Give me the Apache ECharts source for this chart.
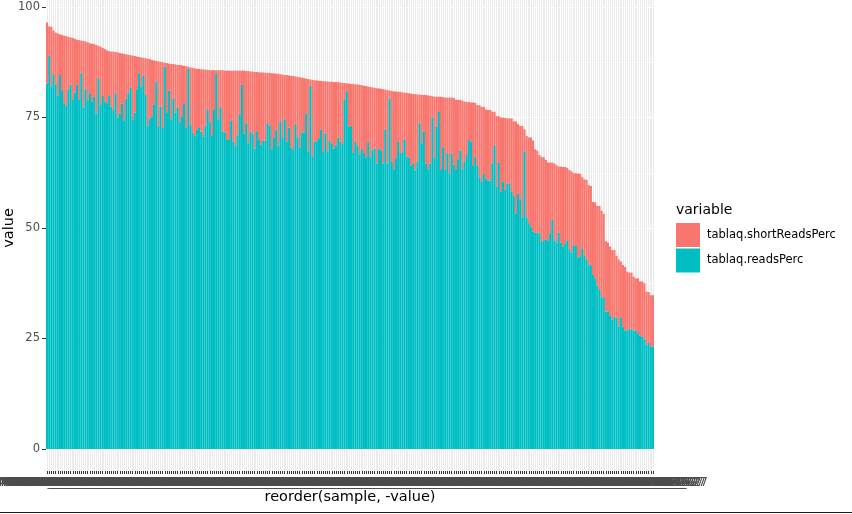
<!DOCTYPE html>
<html><head><meta charset="utf-8">
<script src="https://cdn.jsdelivr.net/npm/echarts@6/dist/echarts.min.js"></script>
<style>html,body{margin:0;padding:0;background:#fff}#c{width:852px;height:514px}</style>
</head><body><div id="c"></div>
<script>
const samples = [
"MGS2017_001_L27","MGS2017_002_L27","MGS2017_003_L27","MGS2017_004_L27","MGS2017_005_L27","MGS2017_006_L27","MGS2017_007_L27","MGS2017_008_L27","MGS2017_009_L27","MGS2017_010_L27",
"MGS2017_011_L27","MGS2017_012_L27","MGS2017_013_L27","MGS2017_014_L27","MGS2017_015_L27","MGS2017_016_L27","MGS2017_017_L27","MGS2017_018_L27","MGS2017_019_L27","MGS2017_020_L27",
"MGS2017_021_L27","MGS2017_022_L27","MGS2017_023_L27","MGS2017_024_L27","MGS2017_025_L27","MGS2017_026_L27","MGS2017_027_L27","MGS2017_028_L27","MGS2017_029_L27","MGS2017_030_L27",
"MGS2017_031_L27","MGS2017_032_L27","MGS2017_033_L27","MGS2017_034_L27","MGS2017_035_L27","MGS2017_036_L27","MGS2017_037_L27","MGS2017_038_L27","MGS2017_039_L27","MGS2017_040_L27",
"MGS2017_041_L27","MGS2017_042_L27","MGS2017_043_L27","MGS2017_044_L27","MGS2017_045_L27","MGS2017_046_L27","MGS2017_047_L27","MGS2017_048_L27","MGS2017_049_L27","MGS2017_050_L27",
"MGS2017_051_L27","MGS2017_052_L27","MGS2017_053_L27","MGS2017_054_L27","MGS2017_055_L27","MGS2017_056_L27","MGS2017_057_L27","MGS2017_058_L27","MGS2017_059_L27","MGS2017_060_L27",
"MGS2017_061_L27","MGS2017_062_L27","MGS2017_063_L27","MGS2017_064_L27","MGS2017_065_L27","MGS2017_066_L27","MGS2017_067_L27","MGS2017_068_L27","MGS2017_069_L27","MGS2017_070_L27",
"MGS2017_071_L27","MGS2017_072_L27","MGS2017_073_L27","MGS2017_074_L27","MGS2017_075_L27","MGS2017_076_L27","MGS2017_077_L27","MGS2017_078_L27","MGS2017_079_L27","MGS2017_080_L27",
"MGS2017_081_L27","MGS2017_082_L27","MGS2017_083_L27","MGS2017_084_L27","MGS2017_085_L27","MGS2017_086_L27","MGS2017_087_L27","MGS2017_088_L27","MGS2017_089_L27","MGS2017_090_L27",
"MGS2017_091_L27","MGS2017_092_L27","MGS2017_093_L27","MGS2017_094_L27","MGS2017_095_L27","MGS2017_096_L27","MGS2017_097_L27","MGS2017_098_L27","MGS2017_099_L27","MGS2017_100_L27",
"MGS2017_101_L27","MGS2017_102_L27","MGS2017_103_L27","MGS2017_104_L27","MGS2017_105_L27","MGS2017_106_L27","MGS2017_107_L27","MGS2017_108_L27","MGS2017_109_L27","MGS2017_110_L27",
"MGS2017_111_L27","MGS2017_112_L27","MGS2017_113_L27","MGS2017_114_L27","MGS2017_115_L27","MGS2017_116_L27","MGS2017_117_L27","MGS2017_118_L27","MGS2017_119_L27","MGS2017_120_L27",
"MGS2017_121_L27","MGS2017_122_L27","MGS2017_123_L27","MGS2017_124_L27","MGS2017_125_L27","MGS2017_126_L27","MGS2017_127_L27","MGS2017_128_L27","MGS2017_129_L27","MGS2017_130_L27",
"MGS2017_131_L27","MGS2017_132_L27","MGS2017_133_L27","MGS2017_134_L27","MGS2017_135_L27","MGS2017_136_L27","MGS2017_137_L27","MGS2017_138_L27","MGS2017_139_L27","MGS2017_140_L27",
"MGS2017_141_L27","MGS2017_142_L27","MGS2017_143_L27","MGS2017_144_L27","MGS2017_145_L27","MGS2017_146_L27","MGS2017_147_L27","MGS2017_148_L27","MGS2017_149_L27","MGS2017_150_L27",
"MGS2017_151_L27","MGS2017_152_L27","MGS2017_153_L27","MGS2017_154_L27","MGS2017_155_L27","MGS2017_156_L27","MGS2017_157_L27","MGS2017_158_L27","MGS2017_159_L27","MGS2017_160_L27",
"MGS2017_161_L27","MGS2017_162_L27","MGS2017_163_L27","MGS2017_164_L27","MGS2017_165_L27","MGS2017_166_L27","MGS2017_167_L27","MGS2017_168_L27","MGS2017_169_L27","MGS2017_170_L27",
"MGS2017_171_L27","MGS2017_172_L27","MGS2017_173_L27","MGS2017_174_L27","MGS2017_175_L27","MGS2017_176_L27","MGS2017_177_L27","MGS2017_178_L27","MGS2017_179_L27","MGS2017_180_L27",
"MGS2017_181_L27","MGS2017_182_L27","MGS2017_183_L27","MGS2017_184_L27","MGS2017_185_L27","MGS2017_186_L27","MGS2017_187_L27","MGS2017_188_L27","MGS2017_189_L27","MGS2017_190_L27",
"MGS2017_191_L27","MGS2017_192_L27","MGS2017_193_L27","MGS2017_194_L27","MGS2017_195_L27","MGS2017_196_L27","MGS2017_197_L27","MGS2017_198_L27","MGS2017_199_L27","MGS2017_200_L27",
"MGS2017_201_L27","MGS2017_202_L27","MGS2017_203_L27","MGS2017_204_L27","MGS2017_205_L27","MGS2017_206_L27","MGS2017_207_L27","MGS2017_208_L27","MGS2017_209_L27","MGS2017_210_L27",
"MGS2017_211_L27","MGS2017_212_L27","MGS2017_213_L27","MGS2017_214_L27","MGS2017_215_L27","MGS2017_216_L27","MGS2017_217_L27","MGS2017_218_L27","MGS2017_219_L27","MGS2017_220_L27",
"MGS2017_221_L27","MGS2017_222_L27","MGS2017_223_L27","MGS2017_224_L27","MGS2017_225_L27","MGS2017_226_L27","MGS2017_227_L27","MGS2017_228_L27","MGS2017_229_L27","MGS2017_230_L27",
"MGS2017_231_L27","MGS2017_232_L27","MGS2017_233_L27","MGS2017_234_L27","MGS2017_235_L27","MGS2017_236_L27","MGS2017_237_L27","MGS2017_238_L27","MGS2017_239_L27","MGS2017_240_L27",
"MGS2017_241_L27","MGS2017_242_L27","MGS2017_243_L27","MGS2017_244_L27","MGS2017_245_L27","MGS2017_246_L27","MGS2017_247_L27","MGS2017_248_L27","MGS2017_249_L27","MGS2017_250_L27",
"MGS2017_251_L27","MGS2017_252_L27","MGS2017_253_L27","MGS2017_254_L27","MGS2017_255_L27","MGS2017_256_L27","MGS2017_257_L27","MGS2017_258_L27","MGS2017_259_L27","MGS2017_260_L27",
"MGS2017_261_L27","MGS2017_262_L27","MGS2017_263_L27","MGS2017_264_L27","MGS2017_265_L27","MGS2017_266_L27","MGS2017_267_L27","MGS2017_268_L27","MGS2017_269_L27","MGS2017_270_L27",
"MGS2017_271_L27","MGS2017_272_L27","MGS2017_273_L27","MGS2017_274_L27","MGS2017_275_L27","MGS2017_276_L27","MGS2017_277_L27","MGS2017_278_L27","MGS2017_279_L27","MGS2017_280_L27",
"MGS2017_281_L27","MGS2017_282_L27","MGS2017_283_L27","MGS2017_284_L27"
];

// Height of each stacked bar (readsPerc + shortReadsPerc)
const stackTop = [
96.5,95.6,95.5,94.7,94.2,94.0,93.8,93.7,93.5,93.4,
93.2,93.1,93.0,92.8,92.6,92.5,92.4,92.3,92.2,92.0,
91.8,91.7,91.6,91.4,91.2,91.0,90.7,90.5,90.2,90.0,
89.9,89.9,89.8,89.7,89.6,89.5,89.4,89.3,89.2,89.1,
89.0,88.9,88.8,88.7,88.6,88.5,88.4,88.3,88.2,88.0,
87.9,87.8,87.7,87.6,87.5,87.4,87.3,87.2,87.1,87.1,
87.0,86.9,86.9,86.8,86.7,86.6,86.5,86.3,86.2,86.1,
86.0,86.0,85.9,85.9,85.8,85.8,85.7,85.7,85.7,85.7,
85.7,85.7,85.7,85.6,85.6,85.6,85.6,85.6,85.6,85.6,85.6,
85.6,85.6,85.5,85.5,85.4,85.4,85.3,85.3,85.2,85.2,
85.2,85.1,85.1,85.1,85.0,85.0,84.9,84.9,84.8,84.7,
84.6,84.6,84.5,84.4,84.4,84.3,84.2,84.1,84.0,83.9,
83.8,83.7,83.6,83.5,83.4,83.4,83.3,83.3,83.2,83.2,
83.1,83.1,83.1,83.0,83.0,83.0,82.9,82.8,82.8,82.7,
82.7,82.6,82.6,82.5,82.5,82.4,82.3,82.2,82.1,82.0,
81.9,81.8,81.7,81.6,81.6,81.5,81.4,81.3,81.2,81.1,
81.0,80.9,80.9,80.8,80.8,80.7,80.6,80.6,80.5,80.4,
80.3,80.3,80.2,80.2,80.1,80.1,80.1,80.0,79.9,79.8,
79.7,
79.7,79.7,79.7,79.6,79.5,79.5,79.5,79.5,79.4,79.0,
79.0,79.0,78.8,78.6,78.5,78.5,78.4,78.4,78.3,77.8,
77.8,77.4,77.4,76.8,76.7,76.7,76.3,76.3,75.3,75.3,
75.0,75.0,74.9,74.8,74.8,74.8,74.1,74.1,73.5,73.1,
73.1,72.3,70.8,70.5,70.5,69.8,67.8,67.5,66.5,66.1,
66.0,65.4,64.8,64.8,64.8,64.6,64.2,63.9,63.9,63.8,
63.8,63.6,63.1,62.8,62.4,62.4,62.3,62.3,61.5,61.0,
60.9,59.7,59.5,55.9,55.8,55.0,55.0,53.9,53.2,47.0,
46.7,45.8,45.0,45.0,43.7,42.9,42.4,41.6,41.2,40.1,
39.9,39.9,39.0,38.6,38.6,37.9,37.9,37.5,35.6,35.5,
34.8,34.8
];

const readsPerc = [
82.7,88.9,82.0,84.8,82.4,79.9,84.6,81.0,78.2,77.6,
81.2,82.4,79.0,80.6,82.4,79.0,85.0,77.2,81.4,78.9,
80.5,78.7,79.7,75.9,83.9,77.8,79.9,78.6,78.2,79.9,
77.4,76.5,80.5,75.0,75.9,78.1,74.4,79.2,80.5,81.8,
74.6,76.1,81.4,85.0,82.0,84.4,80.1,73.1,74.8,75.2,
78.0,83.1,72.9,77.4,72.6,86.5,76.0,81.1,74.6,79.3,
76.1,77.3,73.8,75.2,78.2,72.6,86.0,73.3,71.5,70.8,
72.2,72.6,71.8,70.7,73.0,76.7,74.1,70.8,76.7,85.0,
74.5,77.3,71.8,71.6,69.9,70.1,74.4,69.5,68.6,71.0,75.6,
82.4,71.4,73.7,69.2,71.8,71.4,68.0,71.9,70.1,68.8,
69.7,69.7,73.7,73.1,67.8,70.4,72.3,68.6,74.1,70.4,
74.6,69.5,72.7,68.2,67.8,73.3,70.4,68.2,71.6,71.6,
75.9,67.3,82.1,66.1,69.5,69.6,70.3,72.3,67.3,71.4,
67.3,69.6,69.2,68.0,68.6,70.5,69.5,69.0,79.0,80.8,
72.9,73.1,67.0,69.5,68.6,66.5,67.8,67.0,66.0,69.4,
66.0,67.6,68.0,64.6,68.0,67.6,64.6,72.3,64.6,79.3,
65.0,63.3,65.8,69.5,67.0,67.0,69.9,66.0,66.0,64.0,
64.6,63.0,65.0,73.7,69.2,71.8,64.6,63.3,64.6,75.0,
65.8,
72.9,76.3,63.1,68.2,63.1,66.9,62.4,66.8,64.3,63.1,
65.5,67.5,63.1,65.0,66.5,69.9,69.5,64.0,66.0,64.0,
61.5,60.5,62.2,61.2,60.7,60.7,64.6,68.6,59.3,64.8,
58.2,60.5,58.6,60.1,60.0,58.2,57.2,53.3,57.8,56.5,
52.4,67.3,52.4,51.1,50.3,49.2,48.9,48.9,48.8,46.9,
47.2,47.4,47.2,48.8,51.8,47.2,46.7,48.9,46.7,45.8,
46.4,47.2,45.2,44.4,46.1,46.0,43.3,43.6,45.4,43.7,
42.8,41.6,41.6,39.4,38.6,36.9,36.0,34.3,34.3,31.1,
31.1,30.1,29.3,29.9,29.6,27.7,29.8,27.7,26.8,26.8,
27.1,27.0,26.8,26.8,26.2,25.6,25.4,24.8,23.5,24.0,
23.1,23.2
];

const shortReadsPerc = stackTop.map((t, i) => Math.max(0, Math.round((t - readsPerc[i]) * 10) / 10));

const seriesNames = ['tablaq.shortReadsPerc', 'tablaq.readsPerc'];
const seriesColors = ['#F8766D', '#00BFC4'];

const FONT = 'DejaVu Sans';
const chart = echarts.init(document.getElementById('c'), null, { renderer: 'canvas' });
chart.setOption({
  animation: false,
  backgroundColor: '#fff',
  textStyle: { fontFamily: FONT },
  title: {
    text: 'variable', left: 676, top: 203, padding: 0,
    textStyle: { fontSize: 14, fontWeight: 'normal', color: '#000', fontFamily: FONT }
  },
  legend: {
    data: seriesNames, orient: 'vertical', left: 676, top: 223, padding: 0,
    itemWidth: 22, itemHeight: 22, itemGap: 1.5, icon: 'rect',
    textStyle: { fontSize: 11.5, color: '#000', fontFamily: FONT, padding: [0, 0, 0, 3] }
  },
  grid: [
    { left: 46, right: 198, top: 7, bottom: 65, show: false, outerBoundsMode: 'none', containLabel: false },
    { left: 46, right: 198, top: 0, bottom: 43, show: true, backgroundColor: '#EBEBEB', borderWidth: 0, z: -1, outerBoundsMode: 'none', containLabel: false }
  ],
  xAxis: [
    { type: 'category', gridIndex: 0, data: samples,
      axisLine: { show: false }, axisTick: { show: false }, axisLabel: { show: false }, splitLine: { show: false } },
    { type: 'category', gridIndex: 1, data: samples, z: -1,
      axisLine: { show: false },
      axisTick: { show: true, interval: 0, length: 3, alignWithLabel: true, lineStyle: { color: '#333' } },
      axisLabel: { interval: 0, fontSize: 11.5, color: '#4D4D4D', margin: 6, fontFamily: FONT },
      splitLine: { show: true, interval: 0, lineStyle: { color: '#fff', width: 1 } },
      name: 'reorder(sample, -value)', nameLocation: 'middle', nameGap: 19, nameMoveOverlap: false,
      nameTextStyle: { fontSize: 14.5, color: '#000', fontFamily: FONT } }
  ],
  yAxis: [
    { type: 'value', gridIndex: 0, min: 0, max: 100, interval: 25,
      axisLine: { show: false },
      axisTick: { show: true, length: 4, lineStyle: { color: '#333' } },
      axisLabel: { fontSize: 11.5, color: '#4D4D4D', margin: 6, fontFamily: FONT },
      splitLine: { show: true, lineStyle: { color: '#fff', width: 1.2 } },
      minorTick: { show: false, splitNumber: 2 },
      minorSplitLine: { show: true, lineStyle: { color: '#fff', width: 0.6 } },
      name: 'value', nameLocation: 'middle', nameGap: 29.5, nameMoveOverlap: false,
      nameTextStyle: { fontSize: 14.5, color: '#000', fontFamily: FONT } },
    { type: 'value', gridIndex: 1, min: 0, max: 1, show: false }
  ],
  series: [
    { name: seriesNames[1], type: 'bar', stack: 'v', xAxisIndex: 0, yAxisIndex: 0, z: 5,
      data: readsPerc, barWidth: '100%', large: false,
      itemStyle: { color: seriesColors[1], borderColor: seriesColors[1], borderWidth: 2 } },
    { name: seriesNames[0], type: 'bar', stack: 'v', xAxisIndex: 0, yAxisIndex: 0, z: 4,
      data: shortReadsPerc, barWidth: '100%', large: false,
      itemStyle: { color: seriesColors[0], borderColor: seriesColors[0], borderWidth: 2 } }
  ],
  graphic: [
    { type: 'line', silent: true, shape: { x1: 0, y1: 512.5, x2: 852, y2: 512.5 }, style: { stroke: '#1a1a1a', lineWidth: 1 } }
  ]
});
</script>
</body></html>
